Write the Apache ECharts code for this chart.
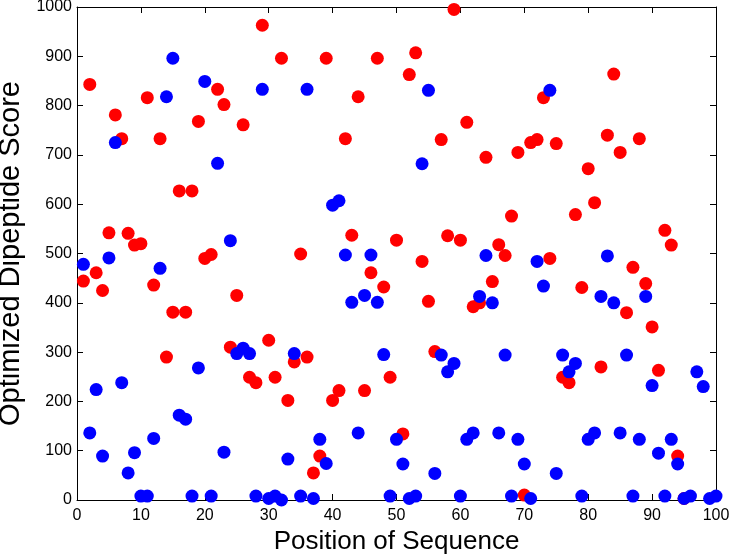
<!DOCTYPE html>
<html>
<head>
<meta charset="utf-8">
<script src="https://cdn.jsdelivr.net/npm/echarts@6/dist/echarts.min.js"></script>
<style>
html,body{margin:0;padding:0;background:#fff;}
#chart{width:734px;height:555px;}
</style>
</head>
<body>
<div id="chart"></div>
<script>
// Red series: positions 1..95
const redPositions = [1,2,3,4,5,6,7,8,9,10,11,12,13,14,15,16,17,18,19,20,21,22,23,24,25,26,27,28,29,30,31,32,33,34,35,36,37,38,39,40,41,42,43,44,45,46,47,48,49,50,51,52,53,54,55,56,57,58,59,60,61,62,63,64,65,66,67,68,69,70,71,72,73,74,75,76,77,78,79,80,81,82,83,84,85,86,87,88,89,90,91,92,93,94,95];
const redScores = [444,843,461,425,542,781,733,541,517,520,816,436,733,290,381,627,381,627,768,490,498,833,802,310,415,761,249,238,963,324,249,896,202,280,499,290,55,89,896,202,222,733,537,818,222,461,896,432,249,527,134,863,907,484,403,301,731,536,995,527,766,392,400,695,443,518,496,576,705,10,725,731,816,490,723,249,238,579,431,672,603,270,740,864,705,380,472,733,439,351,263,547,517,89,3];
// Blue series: positions 1..100
const bluePositions = [1,2,3,4,5,6,7,8,9,10,11,12,13,14,15,16,17,18,19,20,21,22,23,24,25,26,27,28,29,30,31,32,33,34,35,36,37,38,39,40,41,42,43,44,45,46,47,48,49,50,51,52,53,54,55,56,57,58,59,60,61,62,63,64,65,66,67,68,69,70,71,72,73,74,75,76,77,78,79,80,81,82,83,84,85,86,87,88,89,90,91,92,93,94,95,96,97,98,99,100];
const blueScores = [478,136,224,89,491,725,238,55,96,8,8,125,470,818,896,172,164,8,268,849,8,683,97,526,297,308,297,8,833,3,8,0,83,297,8,833,3,123,74,598,607,497,401,136,415,497,401,295,8,123,73,3,8,682,831,54,294,260,277,8,123,136,413,496,400,136,294,8,123,73,3,484,434,831,54,294,260,277,8,123,136,413,495,400,136,294,8,123,413,232,95,8,123,73,3,8,260,230,3,8];

const xTicks = [0,10,20,30,40,50,60,70,80,90,100];
const yTicks = [0,100,200,300,400,500,600,700,800,900,1000];
const xTitle = 'Position of Sequence';
const yTitle = 'Optimized Dipeptide Score';

const pair = (xs, ys) => xs.map((x, i) => [x, ys[i]]);

const chart = echarts.init(document.getElementById('chart'), null, {renderer: 'canvas'});
const axisCommon = {
  type: 'value',
  axisLine: {show: true, onZero: false, lineStyle: {color: '#000', width: 1}},
  axisTick: {show: true, inside: true, length: 6, lineStyle: {color: '#000', width: 1}},
  splitLine: {show: false},
};
const font = 'Liberation Sans';
chart.setOption({
  animation: false,
  backgroundColor: '#fff',
  grid: {left: 77, right: 18, top: 7, bottom: 55, containLabel: false, outerBoundsMode: 'none'},
  xAxis: [
    Object.assign({}, axisCommon, {
      position: 'bottom', min: 0, max: 100, interval: 10,
      name: xTitle, nameLocation: 'middle', nameGap: 23,
      nameTextStyle: {fontFamily: font, fontSize: 26, color: '#000'},
      axisLabel: {fontFamily: font, fontSize: 16, color: '#000', margin: 8,
        formatter: v => xTicks.includes(v) ? String(v) : ''}
    }),
    Object.assign({}, axisCommon, {
      position: 'top', min: 0, max: 100, interval: 10,
      axisLabel: {show: false}
    })
  ],
  yAxis: [
    Object.assign({}, axisCommon, {
      position: 'left', min: 0, max: 1000, interval: 100,
      name: yTitle, nameLocation: 'middle', nameGap: 46, nameRotate: 90,
      nameTextStyle: {fontFamily: font, fontSize: 29, color: '#000'},
      axisLabel: {fontFamily: font, fontSize: 16, color: '#000', margin: 5,
        formatter: v => yTicks.includes(v) ? String(v) : ''}
    }),
    Object.assign({}, axisCommon, {
      position: 'right', min: 0, max: 1000, interval: 100,
      axisLabel: {show: false}
    })
  ],
  series: [
    {
      type: 'scatter', xAxisIndex: 0, yAxisIndex: 0,
      data: pair(redPositions, redScores),
      symbol: 'circle', symbolSize: 13,
      itemStyle: {color: '#ff0000', opacity: 1},
      clip: false, z: 2
    },
    {
      type: 'scatter', xAxisIndex: 0, yAxisIndex: 0,
      data: pair(bluePositions, blueScores),
      symbol: 'circle', symbolSize: 13,
      itemStyle: {color: '#0000ff', opacity: 1},
      clip: false, z: 3
    }
  ]
});
</script>
</body>
</html>
